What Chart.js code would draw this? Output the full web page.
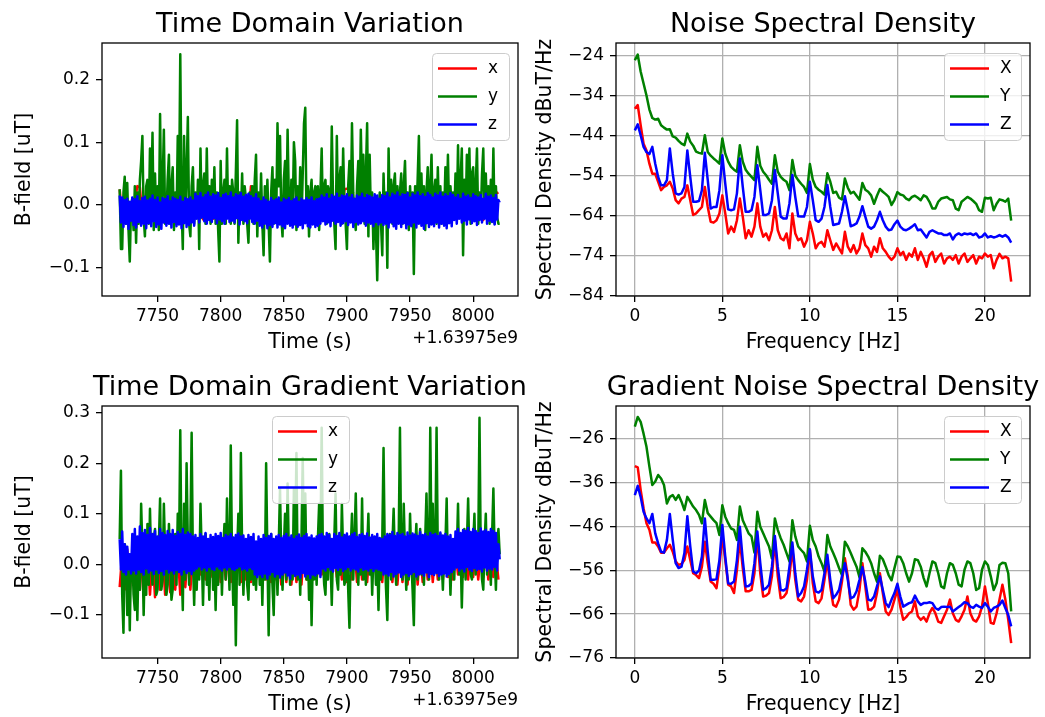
<!DOCTYPE html>
<html><head><meta charset="utf-8">
<script src="https://cdn.jsdelivr.net/npm/chart.js@4/dist/chart.umd.min.js"></script>
<style>
html,body{margin:0;padding:0;background:#fff;width:1045px;height:717px;overflow:hidden}
canvas{position:absolute;left:0;top:0}
</style></head>
<body>
<canvas id="c1" width="1045" height="717"></canvas>
<canvas id="c2" width="1045" height="717"></canvas>
<canvas id="c3" width="1045" height="717"></canvas>
<canvas id="c4" width="1045" height="717"></canvas>
<script>
// ---------- DATA ----------
const timeStart = 7720;          // seconds (offset +1.63975e9)
const fineStep = 1;              // s, y and z series
const coarseStep = 2;            // s, x series
const freqStep = 1/6;            // Hz
const timeTicks = [7750, 7800, 7850, 7900, 7950, 8000];
const topFieldTicks = [-0.1, 0.0, 0.1, 0.2];
const botFieldTicks = [-0.1, 0.0, 0.1, 0.2, 0.3];
const freqTicks = [0, 5, 10, 15, 20];
const nsdTicks = [-84, -74, -64, -54, -44, -34, -24];
const gradTicks = [-76, -66, -56, -46, -36, -26];
const timeLabels = ['x', 'y', 'z'];
const psdLabels = ['X', 'Y', 'Z'];

const topX = [0.025,-0.020,0.004,-0.022,0.002,-0.018,0.006,0.030,0.028,-0.020,
0.003,-0.024,0.005,-0.019,0.002,-0.023,0.006,-0.020,0.001,-0.025,
0.004,-0.018,0.006,-0.022,0.003,-0.021,0.005,-0.019,0.002,-0.024,
0.006,-0.020,0.004,-0.023,0.003,-0.018,0.005,-0.022,0.002,-0.020,
0.006,-0.024,0.003,-0.019,0.005,-0.021,0.002,-0.023,0.004,-0.018,
0.006,-0.020,0.030,0.026,-0.022,0.003,-0.019,0.005,-0.024,0.002,
-0.020,0.006,-0.022,0.004,-0.018,0.003,-0.023,0.005,-0.020,0.002,
-0.024,0.006,-0.019,0.004,-0.021,0.003,-0.022,0.005,-0.018,0.002,
-0.023,0.006,-0.020,0.004,-0.024,0.003,-0.019,0.005,-0.021,0.025,
0.026,0.024,-0.020,0.004,-0.023,0.003,-0.018,0.005,-0.022,0.002,
-0.020,0.006,-0.024,0.004,-0.019,0.003,-0.021,0.005,-0.023,0.002,
-0.018,0.006,-0.020,0.004,-0.022,0.003,-0.024,0.005,-0.019,0.002,
-0.021,0.006,-0.023,0.004,-0.018,0.003,-0.020,0.005,-0.022,0.002,
-0.024,0.006,-0.019,0.004,-0.021,0.003,-0.023,0.005,-0.018,0.002,
-0.020,0.006,-0.022,0.004,-0.024,0.003,-0.019,0.005,-0.021,0.018,
0.020];

const topY = [0.025,-0.07,-0.07,0.02,0.045,-0.03,0.035,-0.04,-0.09,0.0,
0.01,-0.04,0.03,-0.06,0.02,-0.03,0.04,0.07,0.11,-0.02,
-0.05,0.03,0.04,-0.03,0.09,0.0,0.115,-0.04,0.05,-0.03,
0.03,-0.04,0.145,-0.02,0.03,0.12,-0.03,-0.02,0.04,0.08,
-0.03,0.03,0.06,-0.04,0.02,-0.03,0.11,0.01,0.24,0.0,
-0.07,0.11,-0.02,0.05,0.14,-0.03,-0.05,0.03,0.06,-0.03,
0.02,-0.02,0.04,-0.07,0.09,-0.02,0.03,0.05,-0.03,0.09,
-0.02,0.03,-0.03,0.04,-0.02,0.06,-0.03,0.02,-0.04,-0.09,
0.07,-0.03,0.02,0.04,-0.03,0.09,-0.02,0.03,-0.03,0.04,
0.02,-0.03,0.05,0.135,-0.06,0.02,-0.02,0.05,-0.03,0.03,
0.01,-0.03,-0.06,0.02,-0.02,0.03,-0.03,0.04,0.08,-0.05,
0.02,-0.02,0.05,-0.03,-0.08,0.03,-0.02,0.04,-0.03,-0.09,
0.02,0.06,-0.03,0.04,-0.02,0.13,0.03,0.11,-0.02,-0.05,
0.04,0.07,-0.02,0.12,0.01,-0.03,0.04,-0.02,0.1,0.07,
-0.04,0.03,-0.02,0.06,-0.03,0.05,0.13,0.155,-0.02,0.03,
-0.05,0.02,0.04,-0.03,0.02,0.03,-0.02,0.03,-0.04,0.02,
0.09,-0.02,0.03,0.04,-0.03,0.03,0.02,-0.02,0.125,0.01,
-0.03,-0.07,0.11,-0.02,0.04,0.06,-0.03,0.09,0.0,-0.03,
-0.07,0.03,0.07,-0.02,0.13,0.02,-0.02,-0.04,0.03,0.07,
-0.02,0.12,0.02,0.08,-0.03,0.05,0.13,-0.05,0.08,-0.02,
0.02,-0.07,0.01,-0.04,-0.12,-0.02,0.02,-0.03,-0.08,0.05,
-0.02,0.02,-0.1,0.09,-0.02,0.04,-0.03,0.03,0.05,-0.02,
0.03,-0.02,0.02,0.05,-0.03,0.03,0.07,-0.02,0.02,-0.04,
0.03,-0.02,0.02,-0.11,0.03,-0.02,0.04,0.11,-0.02,0.05,
-0.03,0.03,-0.04,0.02,0.06,-0.03,0.03,0.08,-0.02,0.02,
0.04,-0.03,0.06,-0.02,0.03,-0.03,0.02,-0.02,0.06,-0.02,
0.08,-0.02,0.03,-0.01,0.02,-0.02,0.05,-0.02,0.095,-0.02,
0.04,0.09,-0.08,0.04,-0.02,0.08,-0.02,0.09,-0.03,0.05,
0.06,-0.02,0.03,0.09,-0.03,0.02,-0.02,0.05,0.09,-0.02,
0.05,-0.02,0.03,-0.03,0.04,-0.02,0.09,-0.03,0.03,-0.02,
-0.03,-0.03];

const topZ = [0.015,-0.028,0.012,-0.035,0.008,-0.030,0.010,-0.038,0.005,-0.025,
0.012,-0.032,0.009,-0.036,0.014,-0.027,0.006,-0.033,0.011,-0.030,
0.013,-0.037,0.007,-0.029,0.010,-0.034,0.015,-0.026,0.008,-0.035,
0.012,-0.031,0.004,-0.038,0.011,-0.028,0.009,-0.033,0.014,-0.030,
0.006,-0.036,0.012,-0.027,0.010,-0.034,0.008,-0.031,0.013,-0.037,
0.005,-0.029,0.011,-0.035,0.009,-0.032,0.012,-0.028,0.007,-0.033,
0.018,-0.022,0.014,-0.028,0.019,-0.020,0.012,-0.026,0.016,-0.030,
0.020,-0.024,0.013,-0.027,0.017,-0.021,0.015,-0.029,0.019,-0.023,
0.011,-0.026,0.016,-0.030,0.018,-0.022,0.014,-0.027,0.020,-0.025,
0.012,-0.028,0.017,-0.021,0.015,-0.031,0.019,-0.024,0.013,-0.026,
0.016,-0.029,0.018,-0.022,0.014,-0.027,0.011,-0.030,0.017,-0.025,
0.010,-0.033,0.006,-0.036,0.012,-0.030,0.008,-0.037,0.005,-0.032,
0.011,-0.035,0.007,-0.029,0.009,-0.036,0.012,-0.031,0.004,-0.034,
0.010,-0.037,0.008,-0.030,0.011,-0.033,0.006,-0.036,0.009,-0.031,
0.012,-0.035,0.005,-0.032,0.010,-0.037,0.007,-0.029,0.011,-0.034,
0.008,-0.036,0.012,-0.031,0.006,-0.035,0.009,-0.033,0.010,-0.030,
0.015,-0.026,0.012,-0.031,0.017,-0.028,0.010,-0.034,0.016,-0.025,
0.013,-0.030,0.018,-0.027,0.011,-0.033,0.015,-0.029,0.014,-0.026,
0.017,-0.032,0.012,-0.028,0.016,-0.035,0.010,-0.027,0.015,-0.031,
0.013,-0.029,0.018,-0.026,0.011,-0.033,0.016,-0.028,0.014,-0.030,
0.012,-0.034,0.017,-0.027,0.015,-0.031,0.010,-0.028,0.016,-0.032,
0.014,-0.030,0.019,-0.036,0.012,-0.028,0.018,-0.034,0.015,-0.038,
0.020,-0.030,0.013,-0.035,0.017,-0.029,0.016,-0.037,0.019,-0.031,
0.012,-0.034,0.018,-0.028,0.015,-0.036,0.020,-0.030,0.014,-0.033,
0.017,-0.038,0.013,-0.029,0.019,-0.035,0.016,-0.031,0.012,-0.034,
0.018,-0.028,0.015,-0.036,0.020,-0.030,0.013,-0.033,0.017,-0.037,
0.014,-0.029,0.019,-0.034,0.016,
-0.024,0.012,-0.030,0.016,-0.022,0.010,-0.028,0.018,-0.025,0.013,
-0.031,0.015,-0.023,0.011,-0.029,0.017,-0.026,0.014,-0.032,0.012,
-0.024,0.016,-0.028,0.010,-0.022,0.018,-0.030,0.013,-0.025,0.015,
-0.027,0.011,-0.031,0.016,-0.023,0.008,0.004];

const botX = [-0.045,0.02,-0.05,0.03,-0.055,0.02,-0.06,0.025,-0.05,0.02,
-0.055,0.03,-0.06,0.02,-0.065,0.025,-0.05,0.02,-0.06,0.03,
-0.055,0.02,-0.05,0.025,-0.06,0.02,-0.045,0.03,-0.05,0.02,
-0.025,0.03,-0.02,0.025,-0.03,0.03,-0.025,0.02,-0.03,0.03,
-0.035,0.025,-0.03,0.03,-0.035,0.02,-0.03,0.025,-0.035,0.03,
-0.03,0.02,-0.035,0.025,-0.03,0.03,-0.035,0.02,-0.03,0.025,
-0.035,0.03,-0.03,0.02,-0.04,0.025,-0.035,0.03,-0.04,0.02,
-0.035,0.025,-0.04,0.03,-0.03,0.02,-0.035,0.025,-0.03,0.03,
-0.02,0.025,-0.025,0.03,-0.02,0.02,-0.025,0.03,-0.03,0.025,
-0.035,0.02,-0.03,0.03,-0.035,0.025,-0.03,0.02,-0.035,0.03,
-0.025,0.025,-0.03,0.02,-0.035,0.03,-0.03,0.025,-0.035,0.02,
-0.04,0.03,-0.035,0.025,-0.04,0.02,-0.035,0.03,-0.04,0.025,
-0.035,0.02,-0.03,0.03,-0.035,0.025,-0.03,0.02,-0.03,0.03,
-0.025,0.036,-0.03,0.025,-0.02,0.03,-0.025,0.02,-0.03,0.025,
-0.025,0.03,-0.03,0.02,-0.025,0.03,-0.03,0.025,-0.025,0.02,
-0.03];

const botY = [0.05,0.185,-0.06,-0.135,0.04,0.03,-0.1,0.02,-0.13,0.01,
0.02,-0.06,-0.09,0.03,-0.11,0.02,-0.05,0.12,0.03,-0.1,
0.02,-0.06,0.08,-0.04,0.11,0.0,-0.04,0.05,0.07,-0.06,
-0.05,0.04,0.13,-0.05,-0.03,0.12,0.02,-0.06,-0.04,0.08,
0.01,-0.07,-0.05,0.03,0.06,-0.04,0.1,0.02,0.265,0.0,
-0.09,0.12,-0.03,0.2,0.04,-0.04,0.06,0.26,0.01,-0.08,
0.03,-0.05,0.04,-0.03,0.12,0.02,-0.08,0.03,0.06,-0.04,
0.02,-0.07,0.03,0.05,-0.05,0.02,-0.09,0.03,-0.04,0.02,
0.04,-0.06,0.03,0.08,-0.03,0.13,0.02,-0.05,0.235,0.01,
-0.08,0.03,-0.16,0.02,0.1,-0.04,0.22,0.03,-0.06,0.02,
0.04,-0.04,-0.07,0.03,-0.03,0.03,-0.04,0.04,-0.05,0.02,
0.02,-0.04,0.03,-0.08,0.04,-0.03,0.2,0.02,-0.14,0.03,
0.06,-0.04,-0.1,0.03,0.02,-0.06,0.04,0.15,0.01,-0.05,
0.03,0.1,-0.03,0.16,0.02,-0.04,0.05,-0.03,0.15,0.03,
0.22,-0.03,0.04,-0.06,0.05,0.21,0.02,0.14,-0.03,0.04,
-0.07,0.03,-0.12,0.02,-0.03,0.04,-0.04,0.05,0.12,0.02,
0.27,0.01,-0.04,-0.06,0.04,-0.03,0.06,0.01,-0.08,0.03,
0.05,0.14,-0.03,-0.05,0.04,-0.02,0.12,0.02,-0.04,-0.03,
0.04,-0.05,-0.125,0.03,0.1,-0.03,0.05,0.14,0.01,-0.04,
0.03,-0.02,0.13,-0.03,0.05,-0.04,0.03,0.1,-0.02,0.04,
-0.06,0.02,0.03,-0.04,0.02,-0.09,0.03,-0.03,0.05,0.23,
0.02,-0.05,-0.11,0.03,0.06,-0.03,0.04,0.11,0.01,-0.04,
0.03,0.05,0.27,0.02,-0.03,0.12,0.02,-0.05,0.04,-0.03,
0.1,0.01,-0.05,-0.12,0.03,0.08,-0.03,0.04,0.07,-0.02,
0.03,-0.04,0.05,0.14,0.02,-0.03,0.27,0.03,0.12,-0.02,
0.04,0.27,0.02,-0.03,0.06,0.01,-0.05,0.03,0.04,0.13,
-0.02,0.03,-0.06,0.02,0.04,-0.03,0.05,0.02,0.12,-0.02,
0.03,-0.085,0.02,0.07,-0.03,0.04,0.13,0.02,-0.02,-0.03,
0.04,0.1,-0.02,0.05,0.03,0.29,0.02,-0.03,-0.05,0.04,
0.1,-0.02,0.05,0.03,-0.04,0.06,0.15,0.02,-0.05,0.04,
0.07,0.02];

const botZ = [0.05,-0.01,0.065,-0.015,0.04,-0.02,0.035,-0.01,0.02,-0.018,
0.06,-0.012,0.07,-0.018,0.055,-0.01,0.075,-0.015,0.062,-0.02,
0.068,-0.008,0.058,-0.016,0.072,-0.012,0.06,-0.019,0.066,-0.01,
0.055,-0.017,0.07,-0.013,0.062,-0.02,0.058,-0.009,0.066,-0.016,
0.06,-0.012,0.068,-0.018,0.056,-0.011,0.064,-0.015,0.06,-0.02,
0.07,-0.01,0.058,-0.017,0.063,-0.013,0.06,-0.019,0.055,-0.012,
0.058,-0.008,0.052,-0.004,0.06,-0.01,0.055,-0.006,0.062,-0.012,
0.05,-0.005,0.058,-0.009,0.054,-0.011,0.06,-0.004,0.056,-0.008,
0.062,-0.012,0.052,-0.006,0.058,-0.01,0.055,-0.005,0.06,-0.009,
0.053,-0.011,0.058,-0.007,0.061,-0.004,0.055,-0.01,0.057,-0.008,
0.05,-0.012,0.058,-0.006,0.054,-0.009,0.06,-0.02,0.045,-0.025,
0.055,-0.02,0.05,-0.025,0.058,-0.018,0.052,-0.028,0.056,-0.02,
0.06,-0.015,0.05,-0.024,0.055,-0.019,0.058,-0.026,0.052,-0.02,
0.056,-0.016,0.06,-0.022,0.053,-0.028,0.057,-0.018,0.05,-0.023,
0.055,-0.02,0.059,-0.026,0.052,-0.017,0.056,-0.024,0.06,-0.019,
0.053,-0.027,0.057,-0.02,0.051,-0.022,0.055,-0.018,0.058,-0.025,
0.06,-0.008,0.055,-0.012,0.062,-0.005,0.058,-0.01,0.05,-0.014,
0.06,-0.007,0.056,-0.011,0.062,-0.006,0.053,-0.013,0.058,-0.009,
0.061,-0.005,0.055,-0.012,0.059,-0.008,0.062,-0.01,0.054,-0.014,
0.058,-0.006,0.06,-0.011,0.056,-0.009,0.061,-0.012,0.053,-0.007,
0.058,-0.013,0.055,-0.008,0.06,-0.01,0.052,-0.012,0.05,-0.02,
0.055,-0.018,0.06,-0.022,0.058,-0.015,0.064,-0.024,0.056,-0.019,
0.062,-0.016,0.058,-0.025,0.06,-0.02,0.055,-0.017,0.063,-0.023,
0.057,-0.019,0.061,-0.015,0.059,-0.024,0.056,-0.02,0.064,-0.018,
0.058,-0.022,0.06,-0.016,0.055,-0.025,0.062,-0.019,0.058,-0.021,
0.06,-0.017,0.056,-0.023,0.063,-0.02,0.057,-0.018,0.06,-0.024,
0.055,-0.019,0.058,-0.015,0.05,
-0.01,0.065,-0.006,0.07,-0.012,0.062,-0.008,0.068,-0.014,0.066,
-0.005,0.072,-0.01,0.064,-0.013,0.07,-0.007,0.066,-0.011,0.062,
-0.009,0.071,-0.014,0.065,-0.006,0.068,-0.012,0.064,-0.008,0.07,
-0.01,0.066,-0.005,0.062,-0.012,0.04,0.01];

const nsdX = [-37.3,-36.4,-41.4,-46.0,-47.7,-51.0,
-53.5,-53.5,-55.5,-57.6,-56.8,-56.4,
-55.5,-57.2,-60.1,-60.9,-59.7,-59.3,
-56.4,-60.1,-63.8,-63.4,-62.6,-61.8,
-56.8,-61.8,-65.5,-65.7,-65.1,-63.4,
-58.9,-63.4,-68.4,-66.7,-68.0,-65.1,
-59.7,-64.2,-69.6,-67.6,-69.2,-66.7,
-60.9,-66.7,-69.2,-68.4,-70.1,-67.6,
-61.8,-67.6,-69.6,-70.1,-68.4,-72.1,
-63.4,-68.4,-70.1,-69.6,-71.7,-70.1,
-65.5,-68.4,-72.1,-70.9,-70.5,-71.7,
-67.6,-70.1,-72.5,-70.9,-72.1,-73.4,
-68.0,-71.7,-73.0,-71.3,-73.4,-72.1,
-68.4,-71.3,-72.1,-74.2,-71.7,-73.0,
-69.6,-72.1,-73.0,-74.2,-75.0,-74.2,
-72.1,-73.8,-73.0,-75.0,-73.4,-74.2,
-72.1,-75.0,-73.0,-74.6,-76.7,-73.8,
-73.0,-75.5,-74.2,-73.4,-75.9,-74.6,
-74.2,-75.0,-73.8,-75.9,-74.2,-73.4,
-75.5,-74.6,-73.8,-75.9,-74.2,-74.6,
-73.4,-74.2,-73.8,-77.1,-75.0,-73.5,
-74.6,-74.2,-74.6,-80.4];

const nsdY = [-25.2,-23.8,-28.0,-31.0,-34.0,-37.5,
-39.6,-40.0,-39.8,-41.4,-42.0,-42.5,
-42.4,-44.2,-44.5,-45.3,-46.0,-46.4,
-43.5,-45.5,-46.5,-48.0,-48.3,-48.5,
-43.9,-48.1,-49.0,-49.7,-50.3,-51.0,
-44.7,-48.5,-50.5,-51.8,-52.5,-53.0,
-46.4,-50.5,-52.5,-53.5,-54.3,-55.1,
-46.8,-51.5,-53.0,-53.9,-55.0,-56.0,
-48.9,-53.0,-54.3,-55.0,-55.5,-57.6,
-50.1,-54.0,-55.1,-56.0,-56.8,-58.3,
-51.1,-55.0,-56.8,-57.5,-58.0,-58.7,
-53.4,-55.5,-58.3,-58.0,-59.5,-59.9,
-54.7,-57.0,-58.4,-58.0,-59.0,-60.0,
-55.8,-57.5,-58.0,-58.9,-61.0,-59.0,
-57.3,-58.0,-58.6,-59.3,-61.3,-60.0,
-58.1,-58.7,-58.9,-59.7,-60.1,-59.3,
-59.0,-59.5,-60.1,-58.9,-59.3,-60.5,
-62.2,-62.2,-60.5,-59.7,-59.5,-59.3,
-59.9,-60.1,-62.2,-62.6,-60.5,-59.9,
-59.3,-59.7,-60.3,-61.0,-62.6,-63.0,
-59.5,-59.7,-59.5,-62.6,-61.0,-59.9,
-60.1,-60.5,-59.7,-65.2];

const nsdZ = [-42.7,-41.2,-43.9,-46.8,-48.1,-48.6,
-46.8,-51.0,-54.3,-56.4,-56.4,-55.1,
-47.2,-53.5,-58.4,-58.7,-58.4,-56.8,
-47.7,-54.3,-60.5,-60.5,-60.3,-57.6,
-48.3,-55.1,-62.2,-61.8,-61.8,-57.6,
-48.9,-56.0,-62.4,-62.6,-62.4,-58.4,
-49.7,-56.8,-63.0,-63.0,-62.6,-59.3,
-51.4,-57.6,-63.8,-63.8,-63.4,-60.1,
-52.6,-58.4,-64.2,-64.7,-64.7,-60.9,
-53.8,-59.3,-64.1,-64.2,-64.2,-61.8,
-55.5,-60.1,-65.1,-65.5,-64.7,-61.8,
-56.3,-61.8,-66.3,-66.1,-65.9,-63.0,
-59.1,-62.6,-66.6,-66.3,-65.9,-64.2,
-61.6,-64.2,-66.7,-67.2,-66.7,-65.1,
-63.0,-65.1,-66.7,-67.6,-67.4,-66.1,
-65.2,-66.7,-67.4,-67.6,-67.2,-66.7,
-66.1,-67.6,-67.4,-68.4,-69.4,-68.0,
-67.6,-68.0,-68.4,-68.4,-68.8,-68.8,
-68.4,-69.9,-68.8,-68.4,-68.8,-68.4,
-68.6,-68.4,-68.8,-68.4,-69.4,-69.2,
-68.4,-69.4,-69.1,-69.4,-69.2,-68.8,
-69.2,-68.8,-69.4,-70.7];

const gradX = [-32.3,-32.6,-37.7,-41.9,-45.3,-46.8,
-49.7,-49.7,-50.6,-52.0,-52.0,-51.0,
-50.2,-51.8,-54.0,-54.8,-54.6,-53.7,
-50.6,-53.7,-56.7,-57.1,-57.8,-55.2,
-49.5,-54.4,-58.6,-59.1,-60.1,-55.2,
-48.0,-53.7,-59.3,-59.7,-61.2,-55.9,
-49.1,-55.5,-60.8,-60.8,-60.5,-56.7,
-48.3,-56.7,-62.0,-61.8,-61.2,-57.4,
-49.1,-57.4,-62.4,-62.1,-61.2,-57.4,
-51.0,-58.2,-62.7,-63.1,-62.0,-58.2,
-51.4,-59.0,-63.1,-63.5,-62.4,-58.2,
-53.7,-59.7,-63.9,-64.3,-62.7,-58.6,
-53.3,-57.4,-63.9,-65.0,-64.3,-60.5,
-54.4,-59.7,-65.0,-64.9,-64.3,-61.2,
-56.7,-61.2,-65.4,-66.2,-65.0,-62.7,
-60.5,-64.3,-67.3,-66.7,-65.8,-65.4,
-63.1,-66.5,-67.3,-66.7,-67.7,-65.8,
-64.6,-65.8,-67.7,-68.0,-66.5,-65.0,
-62.7,-65.8,-67.3,-67.7,-66.5,-65.0,
-62.0,-65.8,-67.3,-67.7,-66.5,-64.3,
-59.7,-63.5,-68.0,-68.2,-65.8,-62.7,
-59.3,-62.7,-67.3,-72.6];

const gradY = [-23.3,-21.1,-22.2,-24.9,-27.9,-32.4,
-36.6,-35.8,-34.3,-35.1,-36.6,-40.8,
-39.3,-38.9,-40.0,-38.9,-40.4,-42.3,
-39.3,-40.4,-41.5,-42.3,-43.4,-45.3,
-40.0,-43.0,-43.8,-44.6,-45.3,-48.0,
-41.2,-43.8,-45.3,-46.5,-46.8,-49.1,
-41.5,-44.6,-46.1,-47.6,-48.3,-52.0,
-42.7,-46.1,-47.6,-49.1,-50.6,-53.3,
-44.2,-46.8,-48.7,-50.2,-52.1,-54.0,
-44.6,-48.3,-50.6,-51.4,-52.1,-54.0,
-45.9,-49.1,-50.6,-52.9,-54.4,-56.3,
-48.0,-50.6,-52.1,-53.7,-55.5,-57.1,
-49.5,-50.6,-52.1,-53.7,-55.2,-57.6,
-51.0,-51.8,-52.9,-54.4,-56.7,-58.6,
-52.7,-53.5,-55.2,-57.1,-58.3,-55.5,
-52.9,-53.0,-54.4,-56.7,-58.6,-56.7,
-53.5,-53.7,-55.2,-57.8,-59.7,-56.7,
-54.0,-54.4,-56.7,-59.7,-60.1,-56.7,
-54.4,-54.8,-56.7,-59.3,-59.7,-55.9,
-54.0,-54.4,-56.7,-60.5,-60.1,-55.9,
-54.0,-54.8,-57.4,-60.5,-59.0,-54.8,
-54.3,-54.4,-56.7,-65.4];

const gradZ = [-38.9,-36.8,-39.3,-42.7,-44.2,-45.3,
-43.2,-47.6,-49.9,-51.8,-52.0,-49.1,
-43.2,-49.1,-54.4,-55.5,-55.2,-52.1,
-43.7,-50.6,-56.3,-56.7,-56.1,-52.9,
-44.2,-51.8,-58.2,-58.2,-58.0,-53.7,
-45.7,-52.9,-59.0,-59.1,-58.6,-53.7,
-46.1,-53.7,-59.7,-59.6,-59.0,-54.4,
-47.2,-54.4,-60.5,-60.1,-59.3,-55.2,
-48.2,-55.2,-60.5,-60.6,-60.1,-55.2,
-49.7,-56.7,-62.0,-61.2,-59.7,-55.9,
-51.2,-57.4,-60.8,-61.1,-60.5,-56.7,
-52.5,-58.2,-62.4,-61.6,-60.5,-57.4,
-54.4,-58.2,-62.4,-62.1,-60.8,-58.2,
-55.3,-58.6,-62.7,-62.9,-62.0,-59.7,
-57.4,-60.5,-63.5,-64.4,-62.7,-61.2,
-59.1,-62.0,-64.3,-63.9,-63.5,-63.3,
-61.8,-63.1,-63.9,-63.5,-63.5,-63.3,
-63.5,-64.6,-65.0,-64.4,-64.3,-64.4,
-64.3,-65.4,-64.9,-64.4,-63.9,-63.3,
-63.5,-64.3,-64.6,-63.9,-64.3,-64.6,
-63.5,-64.3,-65.4,-64.6,-64.3,-63.9,
-62.9,-64.6,-66.2,-68.8];

const seriesColors = ['#ff0000', '#008000', '#0000ff'];

// ---------- RENDERING ----------
const FONT = '"DejaVu Sans", sans-serif';
Chart.defaults.font.family = FONT;
Chart.defaults.color = '#000';

const YW = 90;   // fixed width of y-axis box
const XH = 40;   // fixed height of x-axis box

const minus = v => (v < 0 ? '\u2212' : '');
const fmtTime = v => String(v);
const fmtField = v => minus(v) + Math.abs(v).toFixed(1);
const fmtFreq = v => String(v);
const fmtDb = v => minus(v) + Math.abs(v);

function pts(values, step, start) {
  return values.map((y, i) => ({ x: start + i * step, y }));
}

function axis(min, max, ticks, fmt, gridOnArea, isX) {
  return {
    type: 'linear', min, max,
    afterBuildTicks: s => { s.ticks = ticks.map(v => ({ value: v })); },
    afterFit: s => { if (isX) s.height = XH; else s.width = YW; },
    ticks: { autoSkip: false, maxRotation: 0, minRotation: 0, padding: isX ? 4 : 6,
      color: '#000', font: { size: 17, family: FONT }, callback: v => fmt(v) },
    grid: { display: true, drawOnChartArea: gridOnArea, drawTicks: true, tickLength: 6,
      color: '#b0b0b0', lineWidth: 1.3, tickColor: '#000', tickWidth: 1.3 },
    border: { display: false }
  };
}

function drawLegend(ctx, x, y, labels, colors) {
  const w = 77, h = 87;
  ctx.save();
  ctx.beginPath();
  ctx.roundRect(x + 0.5, y + 0.5, w, h, 4);
  ctx.fillStyle = 'rgba(255,255,255,0.8)';
  ctx.fill();
  ctx.strokeStyle = '#cccccc';
  ctx.lineWidth = 1;
  ctx.stroke();
  ctx.font = '17px ' + FONT;
  ctx.textBaseline = 'middle';
  ctx.textAlign = 'left';
  labels.forEach((lab, k) => {
    const ry = y + 15.5 + 28 * k;
    ctx.beginPath();
    ctx.moveTo(x + 6, ry); ctx.lineTo(x + 45, ry);
    ctx.strokeStyle = colors[k]; ctx.lineWidth = 2.5; ctx.stroke();
    ctx.fillStyle = '#000';
    ctx.fillText(lab, x + 56, ry);
  });
  ctx.restore();
}

function makeChart(id, cfg) {
  const [L, T, R, B] = cfg.box;
  const datasets = cfg.series.map((s, k) => ({
    label: s.label, data: s.data, borderColor: s.color, backgroundColor: s.color,
    borderWidth: 2.5, pointRadius: 0, tension: 0, fill: false,
    borderJoinStyle: 'round', order: 3 - k
  }));
  const decor = {
    id: 'decor' + id,
    afterDatasetsDraw(chart) {
      const ctx = chart.ctx, a = chart.chartArea;
      ctx.save();
      ctx.strokeStyle = '#000'; ctx.lineWidth = 1.3;
      ctx.strokeRect(a.left, a.top, a.right - a.left, a.bottom - a.top);
      ctx.restore();
      drawLegend(ctx, cfg.legendX, a.top + 10, cfg.series.map(s => s.label), cfg.series.map(s => s.color));
    },
    afterDraw(chart) {
      const ctx = chart.ctx, a = chart.chartArea;
      const cx = (a.left + a.right) / 2;
      ctx.save();
      ctx.fillStyle = '#000';
      ctx.textAlign = 'center'; ctx.textBaseline = 'alphabetic';
      ctx.font = '27px ' + FONT;
      ctx.fillText(cfg.title, cx, a.top - 11);
      ctx.font = '20.5px ' + FONT;
      ctx.fillText(cfg.xlabel, cx, a.bottom + 52);
      if (cfg.offset) {
        ctx.font = '17px ' + FONT;
        ctx.textAlign = 'right';
        ctx.fillText(cfg.offset, a.right, a.bottom + 47);
      }
      ctx.save();
      ctx.translate(cfg.ylabelX, (a.top + a.bottom) / 2);
      ctx.rotate(-Math.PI / 2);
      ctx.font = '20.5px ' + FONT;
      ctx.textAlign = 'center'; ctx.textBaseline = 'middle';
      ctx.fillText(cfg.ylabel, 0, 0);
      ctx.restore();
      ctx.restore();
    }
  };
  return new Chart(document.getElementById(id), {
    type: 'line',
    data: { datasets },
    options: {
      responsive: false, animation: false, devicePixelRatio: 1, parsing: false,
      layout: { padding: { left: L - YW, top: T, right: 1045 - R, bottom: 717 - B - XH } },
      plugins: { legend: { display: false }, title: { display: false }, tooltip: { enabled: false } },
      scales: { x: cfg.x, y: cfg.y }
    },
    plugins: [decor]
  });
}

const freqs = nsdX.map((_, i) => i * freqStep);

makeChart('c1', {
  box: [102, 43, 518, 296],
  title: 'Time Domain Variation', xlabel: 'Time (s)', ylabel: 'B-field [uT]',
  offset: '+1.63975e9', ylabelX: 25, legendX: 432,
  x: axis(7706, 8035.5, timeTicks, fmtTime, false, true),
  y: axis(-0.145, 0.258, topFieldTicks, fmtField, false, false),
  series: [
    { label: timeLabels[0], color: seriesColors[0], data: pts(topX, coarseStep, timeStart) },
    { label: timeLabels[1], color: seriesColors[1], data: pts(topY, fineStep, timeStart) },
    { label: timeLabels[2], color: seriesColors[2], data: pts(topZ, fineStep, timeStart) }
  ]
});

makeChart('c2', {
  box: [616, 43, 1030, 296],
  title: 'Noise Spectral Density', xlabel: 'Frequency [Hz]', ylabel: 'Spectral Density dBuT/Hz',
  ylabelX: 546, legendX: 944,
  x: axis(-1.075, 22.575, freqTicks, fmtFreq, true, true),
  y: axis(-84, -20.9, nsdTicks, fmtDb, true, false),
  series: [
    { label: psdLabels[0], color: seriesColors[0], data: nsdX.map((y, i) => ({ x: freqs[i], y })) },
    { label: psdLabels[1], color: seriesColors[1], data: nsdY.map((y, i) => ({ x: freqs[i], y })) },
    { label: psdLabels[2], color: seriesColors[2], data: nsdZ.map((y, i) => ({ x: freqs[i], y })) }
  ]
});

makeChart('c3', {
  box: [102, 406, 518, 658],
  title: 'Time Domain Gradient Variation', xlabel: 'Time (s)', ylabel: 'B-field [uT]',
  offset: '+1.63975e9', ylabelX: 25, legendX: 272,
  x: axis(7706, 8035.5, timeTicks, fmtTime, false, true),
  y: axis(-0.185, 0.313, botFieldTicks, fmtField, false, false),
  series: [
    { label: timeLabels[0], color: seriesColors[0], data: pts(botX, coarseStep, timeStart) },
    { label: timeLabels[1], color: seriesColors[1], data: pts(botY, fineStep, timeStart) },
    { label: timeLabels[2], color: seriesColors[2], data: pts(botZ, fineStep, timeStart) }
  ]
});

makeChart('c4', {
  box: [616, 406, 1030, 658],
  title: 'Gradient Noise Spectral Density', xlabel: 'Frequency [Hz]', ylabel: 'Spectral Density dBuT/Hz',
  ylabelX: 546, legendX: 944,
  x: axis(-1.075, 22.575, freqTicks, fmtFreq, true, true),
  y: axis(-76, -18.6, gradTicks, fmtDb, true, false),
  series: [
    { label: psdLabels[0], color: seriesColors[0], data: gradX.map((y, i) => ({ x: freqs[i], y })) },
    { label: psdLabels[1], color: seriesColors[1], data: gradY.map((y, i) => ({ x: freqs[i], y })) },
    { label: psdLabels[2], color: seriesColors[2], data: gradZ.map((y, i) => ({ x: freqs[i], y })) }
  ]
});
</script>
</body></html>
